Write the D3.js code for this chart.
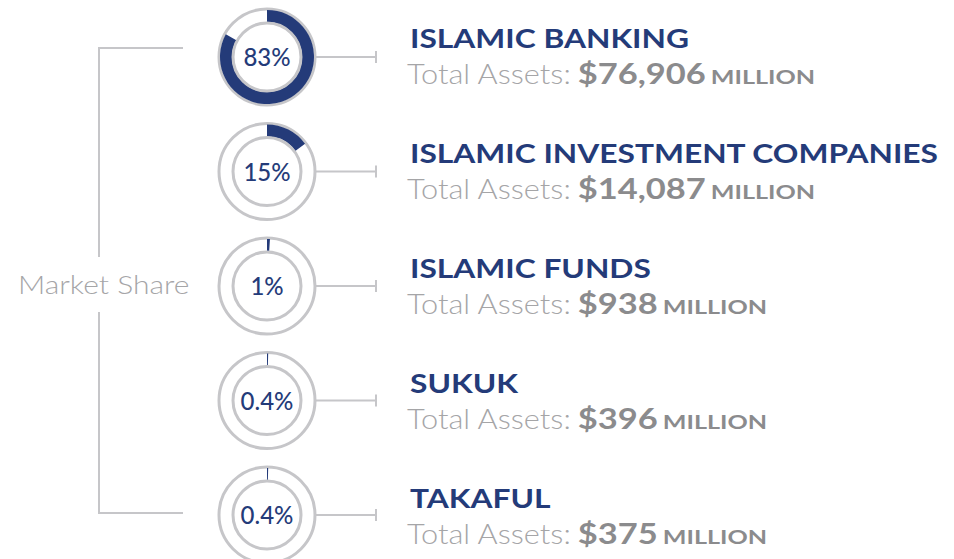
<!DOCTYPE html>
<html>
<head>
<meta charset="utf-8">
<script src="https://cdn.jsdelivr.net/npm/d3@7"></script>
<style>
  body { margin: 0; background: #fff; }
  text { font-family: Lato, "Open Sans", sans-serif; }
</style>
</head>
<body>
<div id="container"></div>
<script>
// Chart data
var sectors = ['ISLAMIC BANKING', 'ISLAMIC INVESTMENT COMPANIES', 'ISLAMIC FUNDS', 'SUKUK', 'TAKAFUL'];
var shares = [83, 15, 1, 0.4, 0.4];
var shareLabels = ['83%', '15%', '1%', '0.4%', '0.4%'];
var assets = [76906, 14087, 938, 396, 375];

var width = 954,
height = 559;

var navy = '#243b79',
ringGrey = '#c6c6c9',
textGrey = '#8b8b8d',
lightGrey = '#a5a5a7';

var svg = d3.select('#container').append('svg').attr('width', width).attr('height', height);

// Lato is narrower than the original geometric face, so widen text a bit
function stretch(sel, k) {
  sel.each(function () {
    var len = this.getComputedTextLength();
    d3.select(this).attr('textLength', len * k).attr('lengthAdjust', 'spacingAndGlyphs');
  });
  return sel;
}

// one row per sector: donut centres and label baselines
var y = d3.scalePoint().domain(sectors).range([57, 515]);
var yText = d3.scalePoint().domain(sectors).range([48, 508]);
var cx = 267,
rOuter = 48,
rInner = 34;

// share -> angle
var angle = d3.scaleLinear().domain([0, 100]).range([0, 2 * Math.PI]);
var arc = d3.arc().innerRadius(rInner + 1).outerRadius(rOuter - 1).startAngle(0);

// Market share bracket on the left
var bracket = svg.append('g').attr('stroke', ringGrey).attr('stroke-width', 2).attr('fill', 'none');
bracket.append('path').attr('d', 'M183,' + (y(sectors[0]) - 9) + 'H99V257');
bracket.append('path').attr('d', 'M99,312V' + (y(sectors[4]) - 2) + 'H183');

stretch(svg.append('text')
  .attr('x', 18)
  .attr('y', 294)
  .attr('font-size', 25)
  .attr('font-weight', 300)
  .attr('fill', lightGrey)
  .text('Market Share'), 1.2);

var rows = svg.selectAll('g.row').data(sectors).enter().append('g')
  .attr('class', 'row')
  .attr('transform', function (d) { return 'translate(0,' + y(d) + ')'; });

// connector with end tick
rows.append('line').attr('x1', cx + rOuter).attr('x2', 376).attr('y1', 0).attr('y2', 0)
  .attr('stroke', ringGrey).attr('stroke-width', 2);
rows.append('line').attr('x1', 376).attr('x2', 376).attr('y1', -6).attr('y2', 6)
  .attr('stroke', ringGrey).attr('stroke-width', 2);

// donuts
var donut = rows.append('g').attr('transform', 'translate(' + cx + ',0)');
donut.append('circle').attr('r', rOuter).attr('fill', '#fff').attr('stroke', ringGrey).attr('stroke-width', 3);
donut.append('path')
  .attr('fill', navy)
  .attr('d', function (d, i) { return arc({ endAngle: angle(shares[i]) }); });
donut.append('circle').attr('r', rInner).attr('fill', 'none').attr('stroke', ringGrey).attr('stroke-width', 3);
var pct = donut.append('text')
  .attr('x', 0)
  .attr('y', 9)
  .attr('font-family', 'Inter, Lato, sans-serif')
  .attr('font-size', 24)
  .attr('font-weight', 500)
  .attr('fill', navy)
  .text(function (d, i) { return shareLabels[i]; });
pct.attr('x', function () { return -this.getComputedTextLength() / 2; });

// labels
var labels = svg.selectAll('g.label').data(sectors).enter().append('g')
  .attr('class', 'label')
  .attr('transform', function (d) { return 'translate(0,' + yText(d) + ')'; });

stretch(labels.append('text')
  .attr('x', 410)
  .attr('y', 0)
  .attr('font-size', 26)
  .attr('font-weight', 700)
  .attr('fill', navy)
  .text(function (d) { return d; }), 1.22);

// subtitle pieces, laid out one after another
var pieces = [
  { size: 27, weight: 300, fill: lightGrey, k: 1.14, gap: 7, text: function () { return 'Total Assets:'; } },
  { size: 28, weight: 700, fill: textGrey, k: 1.23, gap: 5, text: function (d, i) { return '$' + d3.format(',')(assets[i]); } },
  { size: 19, weight: 700, fill: textGrey, k: 1.32, gap: 0, text: function () { return 'MILLION'; } }
];
labels.each(function (d, i) {
  var g = d3.select(this);
  var x = 407;
  pieces.forEach(function (p) {
    var t = g.append('text')
      .attr('x', x)
      .attr('y', 36)
      .attr('font-size', p.size)
      .attr('font-weight', p.weight)
      .attr('fill', p.fill)
      .text(p.text(d, i));
    stretch(t, p.k);
    x += +t.attr('textLength') + p.gap;
  });
});
</script>
</body>
</html>
